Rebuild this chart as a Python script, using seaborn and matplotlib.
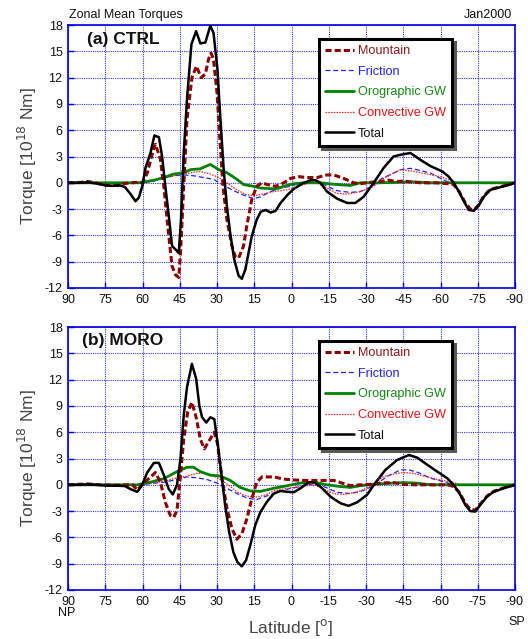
import matplotlib
matplotlib.use("Agg")
import matplotlib.pyplot as plt
from matplotlib.lines import Line2D
import seaborn as sns
import pandas as pd

# ---------------- DATA ----------------
x_ticks = [90, 75, 60, 45, 30, 15, 0, -15, -30, -45, -60, -75, -90]
y_ticks = [-12, -9, -6, -3, 0, 3, 6, 9, 12, 15, 18]
series_names = ["Mountain", "Friction", "Orographic GW", "Convective GW", "Total"]
panel_titles = ["(a) CTRL", "(b) MORO"]

# CTRL
ctrl_total_lat = [90, 85, 82, 78, 75, 72, 69, 67, 64.8, 62.8, 61.5, 60.1, 58.8, 56.8, 55.2, 53.4, 52.1, 50.8,
                  49.4, 48.1, 46.7, 45.4, 44.5, 43.4, 42.1, 40.3, 38.4, 36.7, 34.7, 32.7, 31.4, 29.8, 28.7,
                  27.3, 26.0, 24.7, 23.1, 21.3, 20.0, 18.6, 17.3, 16.0, 14.0, 12.4, 10.4, 8.4, 6.4, 4.4, 1.7,
                  -0.9, -4.3, -7.6, -9.6, -11.6, -14.3, -18.3, -22.4, -25.7, -29, -33.1, -37.1, -41.1, -43.9,
                  -47.9, -52, -56, -60.7, -63.3, -65.3, -67.4, -69.4, -71.4, -73.4, -75.4, -77.4, -80.1,
                  -84.1, -87.4, -90]
ctrl_total = [0, 0, 0.05, -0.1, -0.3, -0.35, -0.3, -0.5, -1.3, -2.1, -1.7, -0.4, 1.7, 3.4, 5.4, 5.2, 3.0, -0.4,
              -3.8, -7.2, -7.6, -8.0, -4.2, 3.4, 9.5, 15.8, 17.3, 15.9, 16.0, 17.9, 17.1, 12.9, 7.6,
              1.5, -2.7, -5.7, -8.7, -10.6, -10.95, -9.9, -8.0, -6.1, -4.2, -3.3, -3.1, -3.4, -3.2, -2.3, -1.4,
              -0.7, -0.1, 0.3, 0.3, 0, -1.0, -1.8, -2.3, -2.3, -1.6, 0, 1.7, 3.0, 3.2,
              3.4, 2.6, 1.9, 1.3, 0.7, 0, -1.0, -2.1, -3.1, -3.2, -2.6, -1.6, -0.8,
              -0.5, -0.25, 0]

ctrl_mountain_lat = [90, 85, 82, 79, 76, 73.5, 70, 67.5, 65, 62, 60.1, 58.1, 55.4, 54.8, 52.8, 51.4, 50.1,
                     48.1, 46.7, 45.4, 44.7, 43.4, 42.1, 40.1, 38.3, 36.4, 34.7, 33.4, 32.4, 31.4, 30.0, 28.9,
                     27.6, 26.0, 24.0, 22.7, 21.3, 19.3, 18.0, 16.0, 14.0, 11.9, 9.8, 6.4, 3.1, 0.4, -2.9, -6.3,
                     -10.3, -14.3, -17, -21, -25, -27.7, -31.7, -35.7, -39, -42.4, -45, -48, -52, -58, -63,
                     -65.3, -67.5, -70, -72, -73.5, -75.4, -77.4, -80, -84, -87.4, -90]
ctrl_mountain = [0, 0.05, 0.15, 0, -0.2, -0.3, -0.3, -0.1, 0, 0.05, 0, 1.1, 4.0, 4.4, 2.7, -0.4, -4.2,
                 -9.5, -10.5, -10.8, -8.0, -0.4, 7.2, 12.0, 13.3, 12.0, 12.4, 14.1, 14.8, 14.1, 10.3, 5.3,
                 -0.4, -4.2, -7.2, -8.4, -8.6, -7.2, -4.9, -1.9, -0.4, 0, -0.2, -0.4, 0, 0.5, 0.7, 0.6,
                 0.6, 0.9, 0.9, 0.5, 0, -0.1, 0.05, 0.15, 0.3, 0.15, 0.2, 0.1, 0, 0, -0.1,
                 -0.2, -1.0, -2.3, -3.0, -3.1, -2.5, -1.5, -0.75, -0.45, -0.2, 0]

ctrl_friction_lat = [90, 65, 60, 55.4, 51.4, 47.4, 43.4, 39.4, 35.4, 31.4, 27.3, 23.3, 19.3, 15.3, 12.4,
                     8.4, 4.4, 0.4, -3.6, -9, -13, -18.3, -23.7, -27.7, -32.4, -36.4, -41.1, -43.9, -47.9,
                     -52, -56, -60, -62.6, -65, -90]
ctrl_friction = [0, 0, 0.05, 0.2, 0.6, 0.8, 0.9, 0.8, 0.6, 0.4, -0.3, -0.9, -1.4, -1.8, -1.6,
                 -1.0, -0.6, -0.4, 0, 0.3, -0.2, -0.9, -1.1, -1.0, -0.4, 0.5, 1.1, 1.5, 1.65,
                 1.4, 1.1, 0.5, 0.15, 0, 0]

ctrl_orogw_lat = [90, 62, 60, 55.4, 51.4, 47.4, 43.4, 40.7, 36.7, 32.7, 29.3, 26.0, 22.0, 19.3, 15.3, 12.4,
                  6.4, 3.1, -0.9, -5, -11.6, -18.3, -23.7, -27.7, -35, -42.4, -45, -50, -55, -90]
ctrl_orogw = [0, 0, 0.05, 0.3, 0.6, 1.0, 1.15, 1.5, 1.6, 2.1, 1.5, 1.15, 0.4, -0.2, -0.4, -0.6,
              -0.7, -0.4, -0.1, 0, 0, -0.2, -0.3, 0, 0, 0.05, 0.1, 0.1, 0, 0]

ctrl_convgw_lat = [90, 62, 58, 55, 51.4, 47.4, 43.4, 39.4, 36.7, 32.7, 29.3, 26.0, 22.0, 18.6, 15.3, 11.9,
                   7.1, 1.7, -2.3, -7.6, -10.3, -14.3, -18.3, -22.4, -27.7, -33.1, -37.1, -41.1, -43.9,
                   -49.3, -54.6, -60, -65.3, -68, -72, -90]
ctrl_convgw = [0, 0, 0.15, 0.3, 0.5, 0.8, 1.0, 1.2, 1.3, 1.0, 0.6, 0.0, -0.8, -1.3, -1.5, -1.3,
               -1.0, -0.8, -0.4, 0, 0, -0.6, -1.2, -1.3, -1.0, -0.4, 0.5, 1.1, 1.5,
               1.3, 1.0, 0.7, 0.15, -0.05, 0, 0]

# MORO
moro_total_lat = [90, 85, 82, 78, 75, 70, 67, 64.8, 62.1, 60.1, 58.1, 55.4, 53.4, 51.4, 49.4, 47.8, 46.1,
                  44.7, 43.4, 42.1, 40.1, 38.4, 37.1, 36.0, 34.3, 32.7, 31.1, 29.8, 28.0, 26.7, 25.1, 23.4,
                  21.8, 20.0, 18.3, 16.6, 14.6, 12.5, 9.8, 7.1, 4.4, 1.7, -0.9, -3.6, -7, -9, -11.6, -15.7,
                  -19.7, -23, -26.4, -30.4, -33.7, -37.8, -42.4, -43.9, -47.3, -50.6, -54.6, -58.7, -62.7,
                  -65.3, -68, -70, -72, -74, -76, -78.7, -81.4, -85.4, -90]
moro_total = [0, 0, 0.05, 0, -0.1, -0.1, -0.15, -0.5, -0.8, 0, 1.4, 2.5, 2.5, 1.1, -0.5, -1.1, 0,
              3.0, 7.9, 11.1, 13.8, 12.1, 9.0, 7.7, 7.1, 7.7, 7.5, 4.9, 0.7, -2.4, -5.4, -7.7,
              -8.8, -9.3, -8.6, -6.9, -4.6, -3.1, -1.9, -1.0, -0.7, -0.8, -0.85, -0.4, 0.3, 0.3, -0.2, -1.35,
              -2.1, -2.4, -2.0, -1.15, 0.2, 1.7, 2.8, 3.0, 3.4, 3.1, 2.3, 1.5, 0.75,
              0, -1.15, -2.3, -3.0, -3.05, -2.3, -1.35, -0.8, -0.4, 0]

moro_mountain_lat = [90, 82, 78, 70, 64, 62.1, 60.1, 57.5, 54.8, 52.8, 50.8, 48.8, 47.4, 46.1, 44.7, 43.4,
                     41.8, 40.1, 38.4, 36.7, 35.1, 33.0, 31.1, 29.8, 28.0, 26.0, 24.0, 22.0, 20.0, 18.0, 16.0,
                     14.0, 11.9, 7.1, 3.1, -0.9, -5, -17, -20.3, -23.7, -27.7, -31.7, -35.7, -41.1, -45, -50,
                     -63, -65.3, -67.4, -70, -72, -74, -76, -78.7, -81.4, -85.4, -90]
moro_mountain = [0, 0.1, 0, -0.05, 0, -0.6, 0, 0.7, 1.4, 0.3, -2.0, -3.5, -3.7, -2.9, 1.1, 5.2,
                 8.3, 9.4, 7.7, 5.2, 4.1, 5.1, 6.0, 4.7, 0.7, -2.7, -5.0, -6.2, -5.6, -3.9, -1.6,
                 0.3, 0.9, 0.9, 0.65, 0.55, 0.5, 0.5, 0.2, -0.1, 0, 0.05, 0.2, 0.25, 0.05, 0,
                 0, -0.2, -0.8, -2.1, -2.8, -2.9, -2.2, -1.3, -0.75, -0.35, 0]

moro_friction_lat = [90, 62, 58, 51.4, 46.1, 42.1, 38.1, 34, 30, 26, 22, 18, 14, 12.4, 7.1, 1.7, -3.6,
                     -7.6, -9.6, -13, -18.3, -23.7, -29, -33.7, -38.5, -43.8, -47.3, -51, -56, -61.3,
                     -64.7, -67, -90]
moro_friction = [0, 0, 0.1, 0.3, 0.6, 0.9, 0.8, 0.6, 0.2, -0.4, -1.0, -1.5, -1.7, -1.5, -1.0, -0.5, -0.2,
                 0.05, 0.2, -0.2, -0.85, -1.0, -0.65, 0, 0.95, 1.7, 1.7, 1.4, 0.75, 0.35,
                 0.05, 0, 0]

moro_orogw_lat = [90, 62, 56.8, 51.4, 46.1, 42.1, 39.4, 36.7, 32.7, 28.7, 24.7, 20.7, 16.6, 12.5, 7.1,
                  1.7, -3.6, -9, -14.3, -19.7, -23.7, -27.7, -33, -41.1, -45, -50, -53, -56, -90]
moro_orogw = [0, 0, 0.3, 0.7, 1.5, 2.0, 2.0, 1.5, 1.1, 1.0, 0.5, -0.3, -0.7, -0.75, -0.4,
              -0.1, 0.2, 0.3, 0, -0.2, -0.3, -0.1, 0.05, 0.2, 0.25, 0.2, 0.1, 0, 0]

moro_convgw_lat = [90, 62, 56, 51.4, 46.1, 42.1, 38.1, 35.4, 32, 28.7, 25.4, 22, 18, 14.6, 12.4, 10,
                   7.1, 1.7, -3.6, -9, -13, -17, -21, -26.4, -31.7, -37.1, -42.4, -45, -49.3, -54.6,
                   -60, -65.3, -68, -72, -90]
moro_convgw = [0, 0, 0.2, 0.4, 0.8, 1.0, 1.3, 1.35, 1.1, 0.6, 0, -0.8, -1.3, -1.4, -1.3, -1.1,
               -0.7, -0.4, -0.2, 0, -0.5, -1.0, -1.1, -0.85, -0.2, 0.95, 1.3, 1.4, 1.3, 0.9,
               0.55, 0.25, 0.05, 0, 0]

# ---------------- STYLE ----------------
sns.set_theme(style="white")
plt.rcParams["font.family"] = ["Liberation Sans", "DejaVu Sans"]

styles = {
    "Mountain": dict(color="#8B0000", lw=2.2, dashes=(2.0, 1.0)),
    "Friction": dict(color="#2222EE", lw=0.9, dashes=(4.0, 2.2)),
    "Orographic GW": dict(color="#008000", lw=2.0, dashes=None),
    "Convective GW": dict(color="#FF2020", lw=0.9, dashes=(1.2, 1.0)),
    "Total": dict(color="black", lw=1.8, dashes=None),
}
text_colors = {"Mountain": "#8B1A1A", "Friction": "#2222EE", "Orographic GW": "#138A13",
               "Convective GW": "#EE1111", "Total": "#111111"}
draw_order = ["Friction", "Convective GW", "Orographic GW", "Mountain", "Total"]

panels = [
    {"Mountain": (ctrl_mountain_lat, ctrl_mountain), "Friction": (ctrl_friction_lat, ctrl_friction),
     "Orographic GW": (ctrl_orogw_lat, ctrl_orogw), "Convective GW": (ctrl_convgw_lat, ctrl_convgw),
     "Total": (ctrl_total_lat, ctrl_total)},
    {"Mountain": (moro_mountain_lat, moro_mountain), "Friction": (moro_friction_lat, moro_friction),
     "Orographic GW": (moro_orogw_lat, moro_orogw), "Convective GW": (moro_convgw_lat, moro_convgw),
     "Total": (moro_total_lat, moro_total)},
]

W, H = 528, 639
fig = plt.figure(figsize=(W / 100, H / 100), dpi=100)
fig.patch.set_facecolor("white")

ax_rects = [
    (68 / W, 1 - 288 / H, 447 / W, 263 / H),
    (68 / W, 1 - 590 / H, 447 / W, 263 / H),
]
title_pos = [(0.042, 0.943), (0.031, 0.95)]
ylab_y = [156, 458]

blue = "#0000DD"
for i, (rect, pdata) in enumerate(zip(ax_rects, panels)):
    ax = fig.add_axes(rect)
    ax.set_facecolor("white")
    for name in draw_order:
        lat, val = pdata[name]
        df = pd.DataFrame({"lat": lat, "val": val})
        st = styles[name]
        line_kw = dict(color=st["color"], linewidth=st["lw"], zorder=3 + draw_order.index(name))
        sns.lineplot(data=df, x="lat", y="val", ax=ax, sort=False, estimator=None, **line_kw)
        ln = ax.get_lines()[-1]
        if st["dashes"] is not None:
            ln.set_dashes(st["dashes"])
            ln.set_dash_capstyle("butt")
    ax.set_xlim(90, -90)
    ax.set_ylim(-12, 18)
    ax.set_xticks(x_ticks)
    ax.set_yticks(y_ticks)
    ax.set_xticklabels([str(t) for t in x_ticks])
    ax.set_yticklabels([str(t) for t in y_ticks])
    ax.set_xlabel("")
    ax.set_ylabel("")
    ax.grid(True, color=blue, linestyle=(0, (1, 1)), linewidth=0.8, alpha=0.8)
    for sp in ax.spines.values():
        sp.set_color(blue)
        sp.set_linewidth(1.2)
    ax.tick_params(direction="in", length=4, width=1, color=blue, labelsize=9, labelcolor="#111111",
                   pad=4, top=False, right=False, bottom=True, left=True)
    ax.text(title_pos[i][0], title_pos[i][1], panel_titles[i], transform=ax.transAxes,
            fontsize=12.5, fontweight="bold", ha="left", va="center", color="#111111", zorder=10)

    handles = []
    for name in series_names:
        st = styles[name]
        h = Line2D([], [], color=st["color"], linewidth=st["lw"])
        if st["dashes"] is not None:
            h.set_dashes(st["dashes"])
        handles.append(h)
    leg = ax.legend(handles, series_names, loc="upper left", bbox_to_anchor=(0.5615, 0.947),
                    fontsize=9.1, frameon=True, fancybox=False, shadow={"color": "0.35", "alpha": 1.0},
                    handlelength=2.3, handletextpad=0.25, labelspacing=0.68, borderpad=0.5,
                    borderaxespad=0.0)
    leg.get_frame().set_edgecolor("black")
    leg.get_frame().set_linewidth(2.2)
    leg.get_frame().set_facecolor("white")
    leg.set_zorder(20)
    for txt, name in zip(leg.get_texts(), series_names):
        txt.set_color(text_colors[name])

    fig.text(27 / W, 1 - ylab_y[i] / H, "Torque [10$^{18}$ Nm]", rotation=90, ha="center", va="center",
             fontsize=12.5, color="#444444")

fig.text(69 / W, 1 - 15 / H, "Zonal Mean Torques", ha="left", va="center", fontsize=9, color="#111111")
fig.text(512 / W, 1 - 15 / H, "Jan2000", ha="right", va="center", fontsize=9, color="#111111")
fig.text(67 / W, 1 - 613 / H, "NP", ha="center", va="center", fontsize=9, color="#111111")
fig.text(517 / W, 1 - 622 / H, "SP", ha="center", va="center", fontsize=9, color="#111111")
fig.text(291 / W, 1 - 627 / H, "Latitude [$^{\\mathrm{o}}$]", ha="center", va="center",
         fontsize=12.5, color="#444444")

fig.savefig("out.png", dpi=100, facecolor="white")
